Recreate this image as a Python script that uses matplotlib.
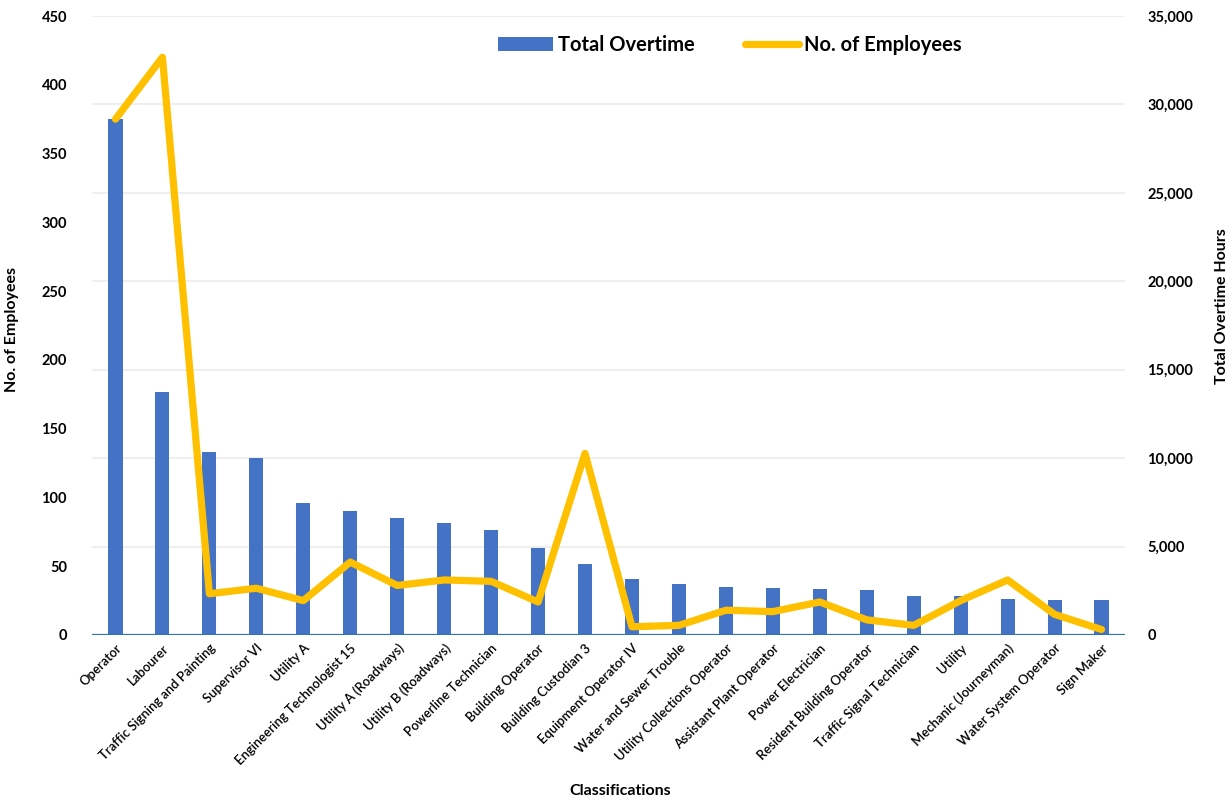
import matplotlib
matplotlib.use("Agg")
import matplotlib.pyplot as plt
from matplotlib.ticker import FuncFormatter, MultipleLocator
from matplotlib.patches import Patch
from matplotlib.lines import Line2D

classifications = [
    "Operator", "Labourer", "Traffic Signing and Painting", "Supervisor VI",
    "Utility A", "Engineering Technologist 15", "Utility A (Roadways)",
    "Utility B (Roadways)", "Powerline Technician", "Building Operator",
    "Building Custodian 3", "Equipment Operator IV", "Water and Sewer Trouble",
    "Utility Collections Operator", "Assistant Plant Operator",
    "Power Electrician", "Resident Building Operator",
    "Traffic Signal Technician", "Utility", "Mechanic (Journeyman)",
    "Water System Operator", "Sign Maker",
]
total_overtime = [
    29150, 13750, 10330, 10010, 7460, 7010, 6620, 6330, 5920, 4920, 4010,
    3170, 2870, 2700, 2660, 2600, 2540, 2220, 2220, 2020, 1980, 1960,
]
employees = [
    375, 420, 30, 34, 25, 53, 36, 40, 39, 24, 132,
    6, 7, 18, 17, 24, 11, 7, 25, 40, 15, 4,
]

BAR_BLUE = "#4472C4"
LINE_GOLD = "#FFC000"
FONT = ["Lato", "DejaVu Sans"]
plt.rcParams["font.family"] = FONT

W, H = 1231, 802
fig = plt.figure(figsize=(W / 100, H / 100), dpi=100)
ax = fig.add_axes([92 / W, 1 - 635 / H, (1125 - 92) / W, (635 - 16) / H])
ax2 = ax.twinx()

x = list(range(len(classifications)))

# Overtime hours as bars on the secondary (right) axis
ax2.bar(x, total_overtime, width=0.3, color=BAR_BLUE, zorder=2)
ax2.set_ylim(0, 35000)
ax2.yaxis.set_major_locator(MultipleLocator(5000))
ax2.yaxis.set_major_formatter(FuncFormatter(lambda v, p: f"{int(v):,}"))
ax2.grid(axis="y", color="#EFEFEF", linewidth=1.5, zorder=0)
ax2.set_axisbelow(True)

# Employee counts as a thick line on the primary (left) axis, drawn above the bars
ax.set_zorder(ax2.get_zorder() + 1)
ax.patch.set_visible(False)
ax.plot(x, employees, color=LINE_GOLD, linewidth=5.2,
        solid_capstyle="round", solid_joinstyle="round", zorder=3)
ax.set_ylim(0, 450)
ax.yaxis.set_major_locator(MultipleLocator(50))
ax.set_xlim(-0.5, len(classifications) - 0.5)

for a in (ax, ax2):
    for side in ("top", "left", "right", "bottom"):
        a.spines[side].set_visible(False)
    a.tick_params(length=0)

ax.axhline(0, color="#2E75B6", linewidth=1.6, zorder=4)

ax.set_xticks(x)
ax.set_xticklabels(classifications, rotation=45, ha="right",
                   rotation_mode="anchor", fontsize=9.4, fontweight="semibold")
ax.tick_params(axis="x", pad=5)
ax.tick_params(axis="y", pad=18, labelsize=10.5)
ax2.tick_params(axis="y", pad=16, labelsize=10.5)
for lbl in ax.get_yticklabels() + ax2.get_yticklabels():
    lbl.set_fontweight("bold")

# Axis titles
fig.text(12 / W, 1 - 330 / H, "No. of Employees", rotation=90, ha="center",
         va="center", fontsize=11.5, fontweight="bold")
fig.text(1222 / W, 1 - 306 / H, "Total Overtime Hours", rotation=90, ha="center",
         va="center", fontsize=11.5, fontweight="bold")
fig.text(620 / W, 1 - 791 / H, "Classifications", ha="center", va="center",
         fontsize=11.5, fontweight="bold")

handles = [
    Patch(facecolor=BAR_BLUE, edgecolor="none", label="Total Overtime"),
    Line2D([0], [0], color=LINE_GOLD, linewidth=5.2, solid_capstyle="round",
           label="No. of Employees"),
]
fig.legend(handles=handles, loc="center", bbox_to_anchor=(730 / W, 1 - 45 / H),
           ncol=2, frameon=False, prop={"family": FONT, "weight": "bold", "size": 14.5},
           handlelength=2.7, handletextpad=0.25, columnspacing=2.5)

fig.savefig("out.png", dpi=100, facecolor="white")
